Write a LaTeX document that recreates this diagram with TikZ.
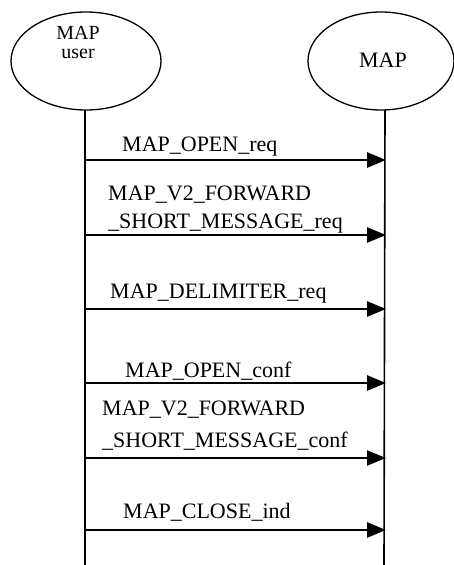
\documentclass[tikz,border=0pt]{standalone}
\usepackage{fontspec}
\setmainfont{Liberation Serif}
\usetikzlibrary{arrows.meta}
\begin{document}
\begin{tikzpicture}[x=1pt,y=-1pt,
  ent/.style={draw,ellipse,line width=1.3pt},
  life/.style={line width=1.6pt},
  msg/.style={line width=2.8pt,-{Triangle[length=19pt,width=15pt]},shorten >=-1pt},
  lbl/.style={anchor=base west,inner sep=0pt,font=\fontsize{22}{24}\selectfont},
  etxt/.style={anchor=base,inner sep=0pt,font=\fontsize{20}{22}\selectfont}]
\useasboundingbox (0,0) rectangle (454,565);
\fill[white] (0,0) rectangle (454,565);
% entities
\draw[line width=1.3pt] (86,61) ellipse [x radius=75pt,y radius=49pt];
\draw[line width=1.3pt] (381,61) ellipse [x radius=73pt,y radius=49pt];
\node[etxt] (u1) at (78,39) {MAP};
\node[etxt] (u2) at (78,58) {user};
\node[etxt,font=\fontsize{22}{24}\selectfont] (m1) at (383,67) {MAP};
% lifelines
\coordinate (lt) at (85,110);
\coordinate (lb) at (85,565);
\coordinate (rt) at (385,110);
\coordinate (rb) at (384,565);
\draw[life] (lt) -- (lb);
\draw[life] (rt) -- (rb);
% messages
\foreach \i/\y in {1/160,2/235,3/309,4/383,5/458,6/530}{
  \coordinate (a\i) at (84,\y);
  \coordinate (b\i) at (385,\y);
}
\draw[msg] (a1) -- (b1);
\draw[msg] (a2) -- (b2);
\draw[msg] (a3) -- (b3);
\draw[msg] (a4) -- (b4);
\draw[msg,line width=2pt] (a5) -- (b5);
\draw[msg] (a6) -- (b6);
% labels
\node[lbl] (t1) at (122,151) {MAP\_OPEN\_req};
\node[lbl] (t2a) at (108,200) {MAP\_V2\_FORWARD};
\node[lbl] (t2b) at (108,228) {\_SHORT\_MESSAGE\_req};
\node[lbl] (t3) at (110,298) {MAP\_DELIMITER\_req};
\node[lbl] (t4) at (125,377) {MAP\_OPEN\_conf};
\node[lbl] (t5a) at (102,415) {MAP\_V2\_FORWARD};
\node[lbl] (t5b) at (102,447) {\_SHORT\_MESSAGE\_conf};
\node[lbl] (t6) at (123,518) {MAP\_CLOSE\_ind};
\end{tikzpicture}
\end{document}
